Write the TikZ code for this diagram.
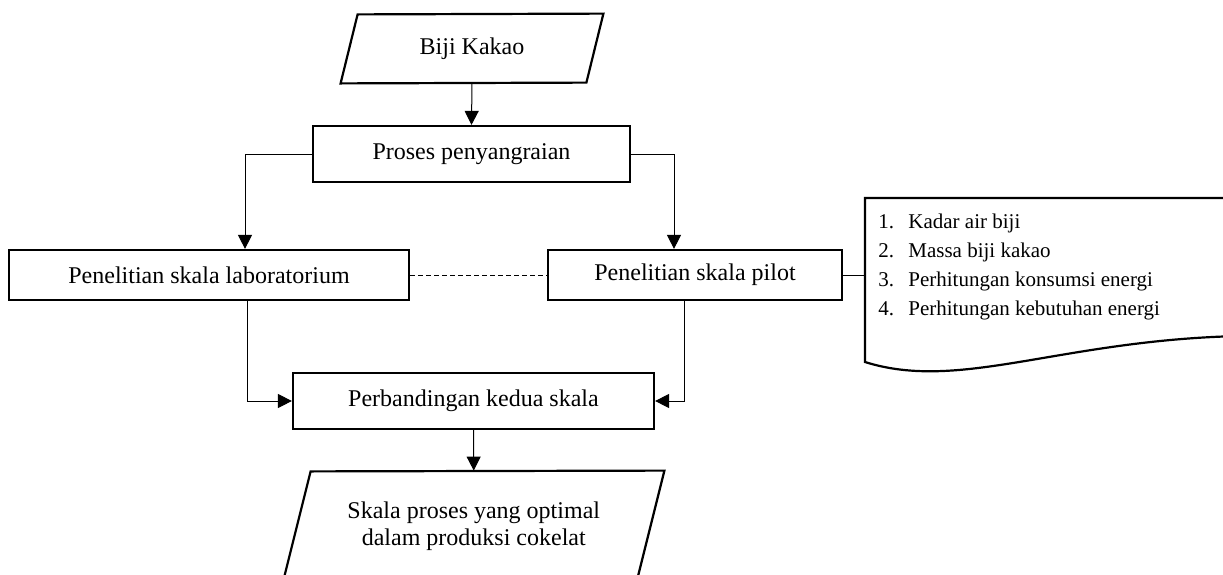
\documentclass[tikz,border=0pt]{standalone}
\usepackage{fontspec}
\setmainfont{Liberation Serif}
\usetikzlibrary{arrows.meta}

\begin{document}
\begin{tikzpicture}[x=0.5pt, y=0.5pt,
  box/.style={draw, line width=1.1pt, inner sep=0pt},
  tepi/.style={line width=1.1pt},
  garis/.style={line width=0.5pt},
  panah/.style={garis, -{Triangle[length=7pt,width=7pt]}},
  font=\fontsize{12}{13.5}\selectfont]
  \useasboundingbox (0,0) rectangle (1223,-574);
  \node[minimum width=131pt, minimum height=34.5pt] (biji) at (472,-48.5) {Biji Kakao};
  \draw[tepi] (biji.south west) -- ++(17,69) -- (biji.north east) -- ++(-17,-69) -- cycle;
  \node[box, minimum width=158.5pt, minimum height=28pt] (sangrai) at (471.5,-154) {Proses penyangraian};
  \node[box, minimum width=200pt, minimum height=25pt] (lab) at (209,-275) {Penelitian skala laboratorium};
  \node[box, minimum width=147pt, minimum height=25pt] (pilot) at (695,-275) {Penelitian skala pilot};
  \node[box, minimum width=180.5pt, minimum height=28pt] (banding) at (473.5,-401) {Perbandingan kedua skala};
  \node[minimum width=190.25pt, minimum height=55pt, align=center] (hasil) at (473.75,-526)
    {Skala proses yang optimal\\dalam produksi cokelat};
  \draw[tepi] (hasil.south west) -- ++(27.5,110) -- (hasil.north east) -- ++(-27.5,-110);
  \node[anchor=north west, align=left, inner xsep=6.5pt, inner ysep=8pt,
    font=\fontsize{10.5}{14.5}\selectfont] (data) at (865,-198)
    {\makebox[15pt][l]{1.}Kadar air biji\\
     \makebox[15pt][l]{2.}Massa biji kakao\\
     \makebox[15pt][l]{3.}Perhitungan konsumsi energi\\
     \makebox[15pt][l]{4.}Perhitungan kebutuhan energi};
  \draw[tepi] (1240,-198) -- (data.north west) -- ++(0,-164)
    .. controls (960,-392) and (1060,-340) .. (1240,-336);

  \draw[panah] (biji.south) -- (sangrai.north);
  \draw[panah] (sangrai.west) -| ([xshift=18pt]lab.north);
  \draw[panah] (sangrai.east) -| ([xshift=-10.5pt]pilot.north);
  \draw[garis, dash pattern=on 2.5pt off 1.5pt] (lab.east) -- (pilot.west);
  \draw[garis] (pilot.east) -- (pilot.east -| data.west);
  \draw[panah] ([xshift=19pt]lab.south) |- (banding.west);
  \draw[panah] ([xshift=-5.5pt]pilot.south) |- (banding.east);
  \draw[panah] (banding.south) -- (hasil.north);
\end{tikzpicture}
\end{document}
